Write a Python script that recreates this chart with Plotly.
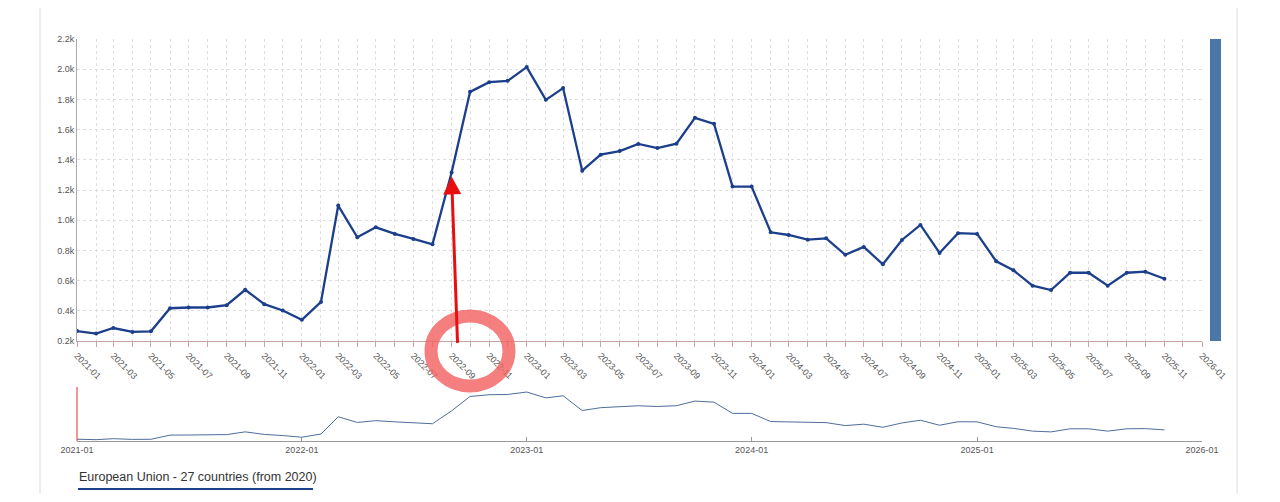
"""
Monthly series for the EU-27 with a navigator strip underneath
"""
import plotly.graph_objects as go
import pandas as pd

# monthly values, thousands, 2021-01 .. 2025-11
months = pd.date_range("2021-01-01", "2025-11-01", freq="MS")
values = [
    0.266, 0.249, 0.286, 0.260, 0.264, 0.417, 0.422, 0.422, 0.437, 0.539, 0.444, 0.402,
    0.340, 0.459, 1.097, 0.887, 0.953, 0.909, 0.876, 0.840, 1.316, 1.850, 1.914, 1.923,
    2.014, 1.797, 1.875, 1.328, 1.434, 1.458, 1.505, 1.478, 1.507, 1.678, 1.638, 1.223,
    1.223, 0.920, 0.902, 0.871, 0.880, 0.771, 0.823, 0.708, 0.869, 0.969, 0.783, 0.914,
    0.909, 0.728, 0.668, 0.566, 0.537, 0.652, 0.652, 0.566, 0.652, 0.659, 0.612,
]
series_name = "European Union - 27 countries (from 2020)"
x_range = ["2021-01-01", "2026-01-01"]
y_range = [0.2, 2.2]
highlight_month = "2022-09-01"
highlight_value = 1.29

# page body has an 8px margin, so the figure is a bit smaller than the window
OFF = 8
W, H = 1264, 486
FONT = "Liberation Sans"
NAVY = "#1c3f8c"


def px_x(p):
    return (p - OFF) / W


def px_y(p):
    return 1 - (p - OFF) / H


fig = go.Figure()

# main line
fig.add_trace(go.Scatter(
    x=months, y=values, mode="lines+markers", name=series_name,
    line=dict(color=NAVY, width=2.3),
    marker=dict(color=NAVY, size=4),
    xaxis="x", yaxis="y", showlegend=False,
))

# navigator copy
fig.add_trace(go.Scatter(
    x=months, y=values, mode="lines",
    line=dict(color="#4f6d9c", width=1),
    xaxis="x2", yaxis="y2", showlegend=False, hoverinfo="skip",
))

tick_font = dict(family=FONT, size=9, color="#555")

fig.update_layout(
    width=W, height=H,
    margin=dict(l=0, r=0, t=0, b=0),
    paper_bgcolor="white",
    plot_bgcolor="white",
    font=dict(family=FONT),
    xaxis=dict(
        domain=[px_x(77), px_x(1202)],
        range=x_range,
        dtick="M2", tickformat="%Y-%m", tickangle=45,
        tickfont=tick_font,
        showline=True, linecolor="#c9a3a3", linewidth=1,
        ticks="outside", ticklen=5, tickcolor="#c9a3a3",
        showgrid=True, gridcolor="#dedede", griddash="dot",
        minor=dict(dtick="M1", ticks="outside", ticklen=5, tickcolor="#c9a3a3",
                   showgrid=True, gridcolor="#dedede", griddash="dot"),
        anchor="y", automargin=False, zeroline=False,
    ),
    yaxis=dict(
        domain=[px_y(341), px_y(39)],
        range=y_range,
        tick0=0.2, dtick=0.2, tickformat=".1f", ticksuffix="k",
        tickfont=tick_font,
        showline=True, linecolor="#aaaaaa", linewidth=1,
        showgrid=True, gridcolor="#dedede", griddash="dot",
        anchor="x", automargin=False, zeroline=False,
    ),
    xaxis2=dict(
        domain=[px_x(77), px_x(1202)],
        range=x_range,
        dtick="M12", tickformat="%Y-%m",
        tickfont=tick_font,
        showline=True, linecolor="#999999", linewidth=1,
        ticks="inside", ticklen=4, tickcolor="#999999",
        showgrid=False, anchor="y2", automargin=False, zeroline=False,
    ),
    yaxis2=dict(
        domain=[px_y(441), px_y(387)],
        range=y_range,
        visible=False, anchor="x2", zeroline=False,
    ),
)

# red arrow pointing at the jump
fig.add_annotation(
    x=highlight_month, y=highlight_value, xref="x", yref="y",
    ax=6, ay=168, text="", showarrow=True,
    arrowhead=2, arrowsize=1.2, arrowwidth=3, arrowcolor="#e8100f",
)

# legend-like label
fig.add_annotation(
    x=px_x(77), y=px_y(477), xref="paper", yref="paper",
    xanchor="left", yanchor="middle", showarrow=False,
    text=series_name, font=dict(family=FONT, size=12.5, color="#333"),
)

shapes = [
    # container borders
    dict(type="line", xref="paper", yref="paper", x0=px_x(40), x1=px_x(40), y0=0, y1=1,
         line=dict(color="#dcdcdc", width=1)),
    dict(type="line", xref="paper", yref="paper", x0=px_x(1237), x1=px_x(1237), y0=0, y1=1,
         line=dict(color="#dcdcdc", width=1)),
    # scroll bar on the right
    dict(type="rect", xref="paper", yref="paper", x0=px_x(1210), x1=px_x(1221),
         y0=px_y(341), y1=px_y(39), fillcolor="#4a76a8", line=dict(width=0)),
    # navigator handle
    dict(type="line", xref="paper", yref="paper", x0=px_x(77), x1=px_x(77),
         y0=px_y(441), y1=px_y(387), line=dict(color="#e03030", width=1)),
    # legend underline
    dict(type="line", xref="paper", yref="paper", x0=px_x(78), x1=px_x(313),
         y0=px_y(489), y1=px_y(489), line=dict(color=NAVY, width=2)),
    # hand-drawn circle around the 2022-09 label
    dict(type="circle", xref="paper", yref="paper",
         x0=px_x(470 - 39), x1=px_x(470 + 39), y0=px_y(351 + 35), y1=px_y(351 - 35),
         line=dict(color="rgba(243,95,95,0.8)", width=13)),
]
fig.update_layout(shapes=shapes)

fig.write_html("out.html")
